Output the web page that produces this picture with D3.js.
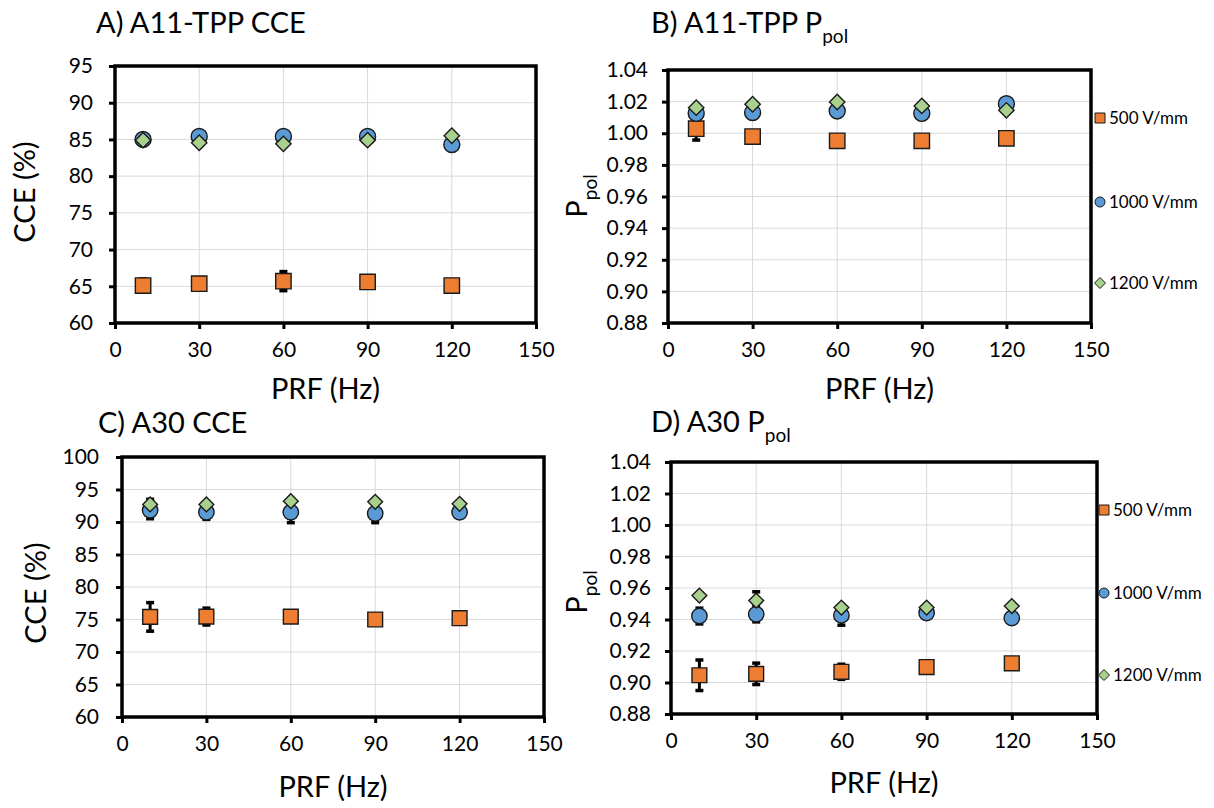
<!DOCTYPE html>
<html>
<head>
<meta charset="utf-8">
<script src="https://cdn.jsdelivr.net/npm/d3@7"></script>
<style>
  body { margin: 0; background: #fff; }
  text { font-family: Lato, "Open Sans", sans-serif; fill: #000; }
</style>
</head>
<body>
<script>
var prf = [10, 30, 60, 90, 120];
var fields = ['500 V/mm', '1000 V/mm', '1200 V/mm'];

// A) A11-TPP CCE
var a_500 = [65.1, 65.35, 65.7, 65.6, 65.1];
var a_500_err = [0.9, 0, 1.3, 0, 0];
var a_1000 = [85.0, 85.4, 85.4, 85.4, 84.3];
var a_1000_err = [0, 0, 0, 0, 0.5];
var a_1200 = [84.9, 84.55, 84.4, 84.9, 85.5];

// B) A11-TPP Ppol
var b_500 = [1.0029, 0.9979, 0.9952, 0.9952, 0.9968];
var b_500_err = [0.0072, 0, 0, 0, 0];
var b_1000 = [1.0126, 1.0131, 1.0141, 1.0126, 1.0187];
var b_1200 = [1.0162, 1.0183, 1.0198, 1.0173, 1.0145];

// C) A30 CCE
var c_500 = [75.4, 75.45, 75.45, 75.0, 75.2];
var c_500_err = [2.2, 1.3, 0.8, 0, 0];
var c_1000 = [91.8, 91.5, 91.5, 91.3, 91.5];
var c_1000_err = [1.3, 1.1, 1.6, 1.4, 0];
var c_1200 = [92.7, 92.7, 93.2, 93.1, 92.8];
var c_1200_err = [0.8, 0, 0, 0, 0];

// D) A30 Ppol
var d_500 = [0.9046, 0.9055, 0.9068, 0.9098, 0.9122];
var d_500_err = [0.0097, 0.0068, 0.0048, 0, 0];
var d_1000 = [0.9422, 0.9433, 0.9426, 0.9441, 0.9409];
var d_1000_err = [0.0050, 0.0048, 0.0062, 0, 0];
var d_1200 = [0.9552, 0.9520, 0.9476, 0.9476, 0.9485];
var d_1200_err = [0, 0.0056, 0, 0, 0];

var ticksCCE_A = [60, 65, 70, 75, 80, 85, 90, 95];
var ticksCCE_C = [60, 65, 70, 75, 80, 85, 90, 95, 100];
var ticksPpol = [0.88, 0.90, 0.92, 0.94, 0.96, 0.98, 1.00, 1.02, 1.04];
var ticksX = [0, 30, 60, 90, 120, 150];

var colors = { sq: '#ED7D31', ci: '#5B9BD5', di: '#A9D18E' };

var svg = d3.select('body').append('svg')
  .attr('width', 1214)
  .attr('height', 808);

// marker path, r = half width
function marker(type, r) {
  if (type === 'sq') return 'M' + (-r) + ',' + (-r) + 'H' + r + 'V' + r + 'H' + (-r) + 'Z';
  if (type === 'di') return 'M0,' + (-r) + 'L' + r + ',0L0,' + r + 'L' + (-r) + ',0Z';
  return d3.symbol().type(d3.symbolCircle).size(Math.PI * r * r)();
}

function drawPanel(p) {
  var g = svg.append('g');
  var x = d3.scaleLinear().domain([0, 150]).range([p.left, p.right]);
  var y = d3.scaleLinear().domain(p.ydom).range([p.bottom, p.top]);

  // grid
  g.selectAll('.gx').data(ticksX.slice(1, -1)).enter().append('line')
    .attr('x1', function(d){ return x(d); }).attr('x2', function(d){ return x(d); })
    .attr('y1', p.top).attr('y2', p.bottom)
    .attr('stroke', '#d9d9d9').attr('stroke-width', 1);
  g.selectAll('.gy').data(p.yticks.slice(1, -1)).enter().append('line')
    .attr('x1', p.left).attr('x2', p.right)
    .attr('y1', function(d){ return y(d); }).attr('y2', function(d){ return y(d); })
    .attr('stroke', '#d9d9d9').attr('stroke-width', 1);

  // axes
  var xAxis = d3.axisBottom(x).tickValues(ticksX).tickSize(6).tickPadding(13)
    .tickFormat(d3.format('d'));
  var yAxis = d3.axisLeft(y).tickValues(p.yticks).tickSize(6).tickPadding(p.ypad)
    .tickFormat(d3.format(p.yfmt));
  var gx = g.append('g').attr('transform', 'translate(0,' + p.bottom + ')').call(xAxis);
  var gy = g.append('g').attr('transform', 'translate(' + p.left + ',0)').call(yAxis);
  [gx, gy].forEach(function(a){
    a.select('.domain').remove();
    a.selectAll('line').attr('stroke', '#000').attr('stroke-width', 3);
    a.selectAll('text').style('font-size', '21px').style('font-family', 'Lato, sans-serif');
  });

  // frame
  g.append('rect')
    .attr('x', p.left).attr('y', p.top)
    .attr('width', p.right - p.left).attr('height', p.bottom - p.top)
    .attr('fill', 'none').attr('stroke', '#000').attr('stroke-width', 3.5);

  // error bars
  p.series.forEach(function(s){
    if (!s.err) return;
    var eb = g.append('g');
    prf.forEach(function(xv, i){
      var e = s.err[i];
      if (!e) return;
      var cx = x(xv), y1 = y(s.vals[i] - e), y2 = y(s.vals[i] + e);
      eb.append('line').attr('x1', cx).attr('x2', cx).attr('y1', y1).attr('y2', y2)
        .attr('stroke', '#000').attr('stroke-width', 3);
      [y1, y2].forEach(function(yy){
        eb.append('line').attr('x1', cx - 4).attr('x2', cx + 4).attr('y1', yy).attr('y2', yy)
          .attr('stroke', '#000').attr('stroke-width', 3.5);
      });
    });
  });

  // markers
  p.series.forEach(function(s){
    g.selectAll('.m' + s.type).data(prf).enter().append('path')
      .attr('d', marker(s.type, s.type === 'ci' ? p.r + 0.3 : p.r))
      .attr('transform', function(d, i){
        return 'translate(' + x(d) + ',' + y(s.vals[i]) + ')';
      })
      .attr('fill', colors[s.type]).attr('stroke', '#1a1a1a').attr('stroke-width', 1.4);
  });

  // titles
  var t = g.append('text').attr('x', p.titleX).attr('y', p.titleY)
    .style('font-size', '29px').text(p.title);
  if (p.titleSub) {
    t.append('tspan').attr('dy', 10).style('font-size', '19px').text(p.titleSub);
  }
  g.append('text').attr('x', (p.left + p.right) / 2).attr('y', p.xtitleY)
    .attr('text-anchor', 'middle').style('font-size', '29px').text('PRF (Hz)');

  var yt = g.append('text')
    .attr('transform', 'translate(' + p.ytitleX + ',' + p.ytitleY + ') rotate(-90)')
    .attr('text-anchor', 'middle').style('font-size', '29px');
  yt.text(p.ytitle);
  if (p.ytitleSub) {
    yt.append('tspan').attr('dy', 10).style('font-size', '19px').text(p.ytitleSub);
  }

  // legend
  if (p.legend) {
    var types = ['sq', 'ci', 'di'];
    fields.forEach(function(f, i){
      var ly = p.legend.ys[i];
      var lx = p.legend.x;
      g.append('path').attr('d', marker(types[i], types[i] === 'di' ? 5.5 : 5))
        .attr('transform', 'translate(' + lx + ',' + ly + ')')
        .attr('fill', colors[types[i]]).attr('stroke', '#1a1a1a').attr('stroke-width', 1);
      g.append('text').attr('x', lx + 9).attr('y', ly + 6)
        .style('font-size', '17px').text(f);
    });
  }
}

drawPanel({
  left: 115, right: 536, top: 66, bottom: 323,
  ydom: [60, 95], yticks: ticksCCE_A, yfmt: 'd', ypad: 16, r: 7.7,
  title: 'A) A11-TPP CCE', titleX: 96, titleY: 33,
  xtitleY: 399, ytitle: 'CCE (%)', ytitleX: 35, ytitleY: 192,
  series: [
    { type: 'sq', vals: a_500, err: a_500_err },
    { type: 'ci', vals: a_1000, err: a_1000_err },
    { type: 'di', vals: a_1200 }
  ]
});

drawPanel({
  left: 668, right: 1091, top: 70, bottom: 323,
  ydom: [0.88, 1.04], yticks: ticksPpol, yfmt: '.2f', ypad: 14, r: 7.7,
  title: 'B) A11-TPP P', titleSub: 'pol', titleX: 651, titleY: 33,
  xtitleY: 399, ytitle: 'P', ytitleSub: 'pol', ytitleX: 587, ytitleY: 196,
  legend: { x: 1100, ys: [118, 202, 283] },
  series: [
    { type: 'sq', vals: b_500, err: b_500_err },
    { type: 'ci', vals: b_1000 },
    { type: 'di', vals: b_1200 }
  ]
});

drawPanel({
  left: 122, right: 544, top: 457, bottom: 717,
  ydom: [60, 100], yticks: ticksCCE_C, yfmt: 'd', ypad: 17, r: 7.4,
  title: 'C) A30 CCE', titleX: 98, titleY: 433,
  xtitleY: 797, ytitle: 'CCE (%)', ytitleX: 46, ytitleY: 593,
  series: [
    { type: 'sq', vals: c_500, err: c_500_err },
    { type: 'ci', vals: c_1000, err: c_1000_err },
    { type: 'di', vals: c_1200, err: c_1200_err }
  ]
});

drawPanel({
  left: 671, right: 1097, top: 462, bottom: 714,
  ydom: [0.88, 1.04], yticks: ticksPpol, yfmt: '.2f', ypad: 14, r: 7.4,
  title: 'D) A30 P', titleSub: 'pol', titleX: 651, titleY: 432,
  xtitleY: 793, ytitle: 'P', ytitleSub: 'pol', ytitleX: 587, ytitleY: 592,
  legend: { x: 1104, ys: [510, 593, 675] },
  series: [
    { type: 'sq', vals: d_500, err: d_500_err },
    { type: 'ci', vals: d_1000, err: d_1000_err },
    { type: 'di', vals: d_1200, err: d_1200_err }
  ]
});
</script>
</body>
</html>
